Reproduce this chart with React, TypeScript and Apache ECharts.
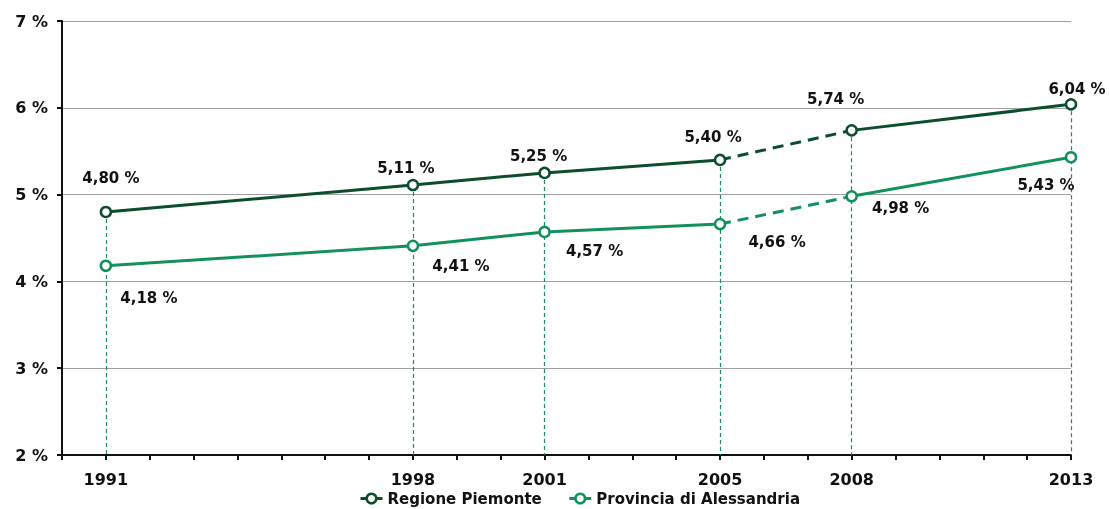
import React, { useEffect, useRef } from "react";
import * as echarts from "echarts";

const years = [1991, 1998, 2001, 2005, 2008, 2013];
const piemonte = [4.8, 5.11, 5.25, 5.4, 5.74, 6.04];
const alessandria = [4.18, 4.41, 4.57, 4.66, 4.98, 5.43];
const seriesNames = ["Regione Piemonte", "Provincia di Alessandria"];
// label offsets (dx, dy) relative to point, per point
const piemonteLabelOffsets = [[5, -34], [-7, -17], [-6, -17], [-7, -23], [-16, -31], [6, -15]];
const alessandriaLabelOffsets = [[43, 32], [48, 20], [50, 19], [57, 18], [49, 12], [-25, 28]];
// segments: solid up to 2005, dashed 2005-2008, solid 2008-2013
const solidA = [0, 1, 2, 3];
const dashed = [3, 4];
const solidB = [4, 5];

const DARK = "#0b4d2c";
const LIGHT = "#13915c";
const DROP = "#218a5a";
const FONT = "DejaVu Sans";

const fmt = (v: number) => v.toFixed(2).replace(".", ",") + " %";

export default function App() {
  const ref = useRef<HTMLDivElement>(null);
  useEffect(() => {
    const chart = echarts.init(ref.current!, null, { renderer: "svg" });
    const mkPoints = (vals: number[], offs: number[][]) =>
      vals.map((v, i) => ({
        value: [years[i], v],
        label: { offset: offs[i] },
      }));
    const seg = (vals: number[], idx: number[]) => idx.map((i) => [years[i], vals[i]]);
    const lineSeg = (name: string, vals: number[], idx: number[], color: string, type: any) => ({
      name,
      type: "line",
      data: seg(vals, idx),
      showSymbol: false,
      symbol: "none",
      lineStyle: { color, width: 3, type },
      z: 2,
      silent: true,
    });
    const pointSeries = (name: string, vals: number[], offs: number[][], color: string, extra: any = {}) => ({
      name,
      type: "line",
      data: mkPoints(vals, offs),
      symbol: "circle",
      symbolSize: 10,
      lineStyle: { width: 0, color },
      itemStyle: { color: "#fff", borderColor: color, borderWidth: 2.5 },
      label: {
        show: true,
        position: "inside",
        formatter: (p: any) => fmt(p.value[1]),
        fontFamily: FONT,
        fontWeight: "bold",
        fontSize: 15,
        color: "#111",
      },
      z: 5,
      ...extra,
    });
    chart.setOption({
      animation: false,
      grid: { left: 62, right: 38, top: 21, bottom: 54, containLabel: false },
      legend: {
        data: seriesNames.map((n, i) => ({ name: n, itemStyle: { color: "#fff", borderColor: i === 0 ? DARK : LIGHT, borderWidth: 2.5 }, lineStyle: { color: i === 0 ? DARK : LIGHT, width: 3 } })),
        left: 357,
        top: 489,
        padding: 2,
        itemWidth: 22,
        itemHeight: 12,
        itemGap: 26,
        textStyle: { fontFamily: FONT, fontWeight: "bold", fontSize: 15, color: "#111" },
      },
      xAxis: {
        type: "value",
        min: 1990,
        max: 2013,
        interval: 1,
        axisLine: { lineStyle: { color: "#111", width: 2 } },
        axisTick: { show: true, length: 5, lineStyle: { color: "#111", width: 2 } },
        splitLine: { show: false },
        axisLabel: {
          margin: 16,
          formatter: (v: number) => (years.includes(v) ? String(v) : ""),
          fontFamily: FONT,
          fontWeight: "bold",
          fontSize: 16,
          color: "#111",
          showMinLabel: true,
          showMaxLabel: true,
        },
      },
      yAxis: {
        type: "value",
        min: 2,
        max: 7,
        interval: 1,
        axisLine: { show: true, lineStyle: { color: "#111", width: 2 } },
        axisTick: { show: true, length: 5, lineStyle: { color: "#111", width: 2 } },
        splitLine: { show: true, lineStyle: { color: "#a0a0a0", width: 1 } },
        axisLabel: {
          margin: 14,
          formatter: "{value} %",
          fontFamily: FONT,
          fontWeight: "bold",
          fontSize: 16,
          color: "#111",
        },
      },
      series: [
        lineSeg(seriesNames[0], piemonte, solidA, DARK, "solid"),
        lineSeg(seriesNames[0], piemonte, dashed, DARK, [11, 7]),
        lineSeg(seriesNames[0], piemonte, solidB, DARK, "solid"),
        lineSeg(seriesNames[1], alessandria, solidA, LIGHT, "solid"),
        lineSeg(seriesNames[1], alessandria, dashed, LIGHT, [11, 7]),
        lineSeg(seriesNames[1], alessandria, solidB, LIGHT, "solid"),
        pointSeries(seriesNames[0], piemonte, piemonteLabelOffsets, DARK, {
          markLine: {
            silent: true,
            symbol: ["none", "none"],
            label: { show: false },
            emphasis: { disabled: true },
            lineStyle: { color: DROP, width: 1.2, type: [4, 3], opacity: 1 },
            data: years.map((y, i) => [{ coord: [y, piemonte[i]] }, { coord: [y, 2] }]),
            z: 1,
          },
        }),
        pointSeries(seriesNames[1], alessandria, alessandriaLabelOffsets, LIGHT),
      ],
    });
    return () => chart.dispose();
  }, []);
  return <div ref={ref} style={{ position: "fixed", left: 0, top: 0, width: 1109, height: 509 }} />;
}
